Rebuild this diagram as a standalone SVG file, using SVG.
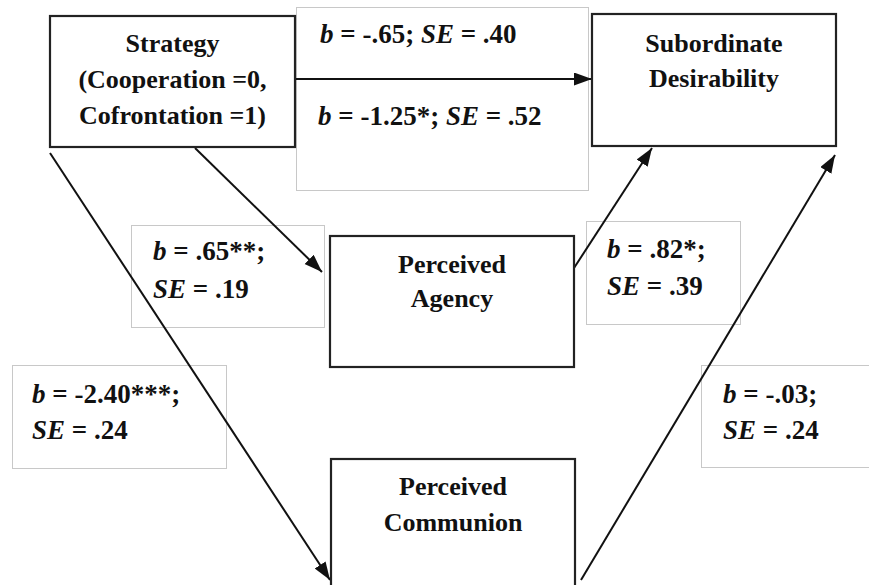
<svg xmlns="http://www.w3.org/2000/svg" width="869" height="585" viewBox="0 0 869 585">
<style>
.node{fill:#fff;stroke:#222;stroke-width:2.2}
.lbl{fill:#fff;stroke:#c8c8c8;stroke-width:1}
.nt{font-family:"Liberation Serif",serif;font-weight:bold;font-size:26px;fill:#111;text-anchor:middle}
.et{font-family:"Liberation Serif",serif;font-weight:bold;font-size:27px;fill:#111}
.i{font-style:italic}
.edge{stroke:#111;stroke-width:2;fill:none;marker-end:url(#ah)}
</style>
<defs>
<marker id="ah" markerUnits="userSpaceOnUse" markerWidth="19" markerHeight="14" refX="18" refY="6.5" orient="auto">
<path d="M0,0 L18,6.5 L0,13 Z" fill="#111"/>
</marker>
</defs>
<rect width="869" height="585" fill="#fff"/>
<g id="label-boxes">
<rect class="lbl" x="296.5" y="7.5" width="292" height="183"/>
<rect class="lbl" x="131.5" y="225.5" width="193" height="102"/>
<rect class="lbl" x="586.5" y="221.5" width="154" height="103"/>
<rect class="lbl" x="12.5" y="365.5" width="214" height="103"/>
<rect class="lbl" x="701.5" y="365.5" width="170" height="102"/>
</g>
<g id="connectors">
<path class="edge" d="M295,79 L592,79"/>
<path class="edge" d="M195,148 L322,272"/>
<path class="edge" d="M50,153 L330,580"/>
<path class="edge" d="M574,268 L652,148"/>
<path class="edge" d="M581,580 L835,155"/>
</g>
<g id="node-strategy">
<rect class="node" x="50" y="16" width="245" height="131"/>
<text class="nt" x="172.5" y="52">Strategy</text>
<text class="nt" x="172.5" y="88">(Cooperation =0,</text>
<text class="nt" x="172.5" y="124">Cofrontation =1)</text>
</g>
<g id="node-subordinate">
<rect class="node" x="592" y="14" width="244" height="132"/>
<text class="nt" x="714" y="52">Subordinate</text>
<text class="nt" x="714" y="87">Desirability</text>
</g>
<g id="node-agency">
<rect class="node" x="330" y="236" width="244" height="131"/>
<text class="nt" x="452" y="273">Perceived</text>
<text class="nt" x="452" y="307">Agency</text>
</g>
<g id="node-communion">
<rect class="node" x="331" y="459" width="244" height="140"/>
<text class="nt" x="453" y="495">Perceived</text>
<text class="nt" x="453" y="531">Communion</text>
</g>
<g id="edge-labels">
<text class="et" x="320" y="43"><tspan class="i">b</tspan> = -.65; <tspan class="i">SE</tspan> = .40</text>
<text class="et" x="318" y="125"><tspan class="i">b</tspan> = -1.25*; <tspan class="i">SE</tspan> = .52</text>
<text class="et" x="153" y="260"><tspan class="i">b</tspan> = .65**;</text>
<text class="et" x="153" y="298"><tspan class="i">SE</tspan> = .19</text>
<text class="et" x="607" y="258"><tspan class="i">b</tspan> = .82*;</text>
<text class="et" x="607" y="295"><tspan class="i">SE</tspan> = .39</text>
<text class="et" x="32" y="403"><tspan class="i">b</tspan> = -2.40***;</text>
<text class="et" x="32" y="439"><tspan class="i">SE</tspan> = .24</text>
<text class="et" x="723" y="403"><tspan class="i">b</tspan> = -.03;</text>
<text class="et" x="723" y="439"><tspan class="i">SE</tspan> = .24</text>
</g>
</svg>
